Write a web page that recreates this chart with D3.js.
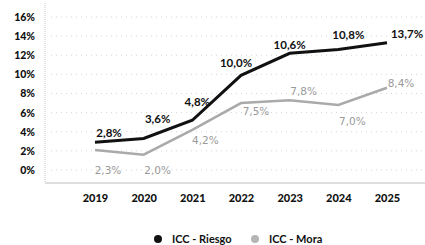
<!DOCTYPE html>
<html>
<head>
<meta charset="utf-8">
<script src="https://cdn.jsdelivr.net/npm/d3@7"></script>
<style>
  body { margin: 0; background: #fff; }
  svg { display: block; font-family: Lato, "Open Sans", sans-serif; }
</style>
</head>
<body>
<svg id="chart" width="425" height="245"></svg>
<script>
const years = ['2019', '2020', '2021', '2022', '2023', '2024', '2025']
const riesgo = [2.9, 3.3, 5.2, 9.9, 12.2, 12.6, 13.3]
const mora = [2.1, 1.6, 4.2, 7.0, 7.3, 6.8, 8.6]
const riesgoLabels = ['2,8%', '3,6%', '4,8%', '10,0%', '10,6%', '10,8%', '13,7%']
const moraLabels = ['2,3%', '2,0%', '4,2%', '7,5%', '7,8%', '7,0%', '8,4%']
const yTicks = [0, 2, 4, 6, 8, 10, 12, 14, 16]
const seriesNames = ['ICC - Riesgo', 'ICC - Mora']

// label nudges (layout only)
const riesgoNudge = [[14, -5], [14, -15], [5, -14], [-5, -8], [0, -4], [10, -11], [20, -5]]
const moraNudge = [[13, 24], [14, 19], [13, 14], [15, 12], [14, -5], [14, 20], [14, -1]]

const svg = d3.select('#chart')
const left = 45, right = 425, bottom = 183

const x = d3.scalePoint().domain(years).range([95, 387])
const y = d3.scaleLinear().domain([0, 16]).range([170, 17])

// gridlines
svg.append('g')
  .selectAll('line')
  .data(yTicks)
  .join('line')
    .attr('x1', left + 6)
    .attr('x2', right)
    .attr('y1', d => y(d))
    .attr('y2', d => y(d))
    .attr('stroke', '#d6d6d6')
    .attr('stroke-width', 1)
    .attr('stroke-dasharray', '1,4')

// frame lines
svg.append('line')
  .attr('x1', left).attr('x2', left).attr('y1', 3).attr('y2', bottom)
  .attr('stroke', '#c8c8c8').attr('stroke-dasharray', '1,1')
svg.append('line')
  .attr('x1', left).attr('x2', right).attr('y1', bottom).attr('y2', bottom)
  .attr('stroke', '#bdbdbd').attr('stroke-width', 1.2)

// y axis labels
const yAxis = d3.axisLeft(y).tickValues(yTicks).tickFormat(d => d + '%').tickSize(0).tickPadding(0)
svg.append('g')
  .attr('transform', 'translate(35,0)')
  .call(yAxis)
  .call(g => g.select('.domain').remove())
  .selectAll('text')
    .attr('font-family', 'Lato, sans-serif')
    .attr('font-size', 10.5)
    .attr('font-weight', 900)
    .attr('fill', '#111')

// x axis labels
const xAxis = d3.axisBottom(x).tickSize(0).tickPadding(0)
svg.append('g')
  .attr('transform', 'translate(0,194)')
  .call(xAxis)
  .call(g => g.select('.domain').remove())
  .selectAll('text')
    .attr('font-family', 'Lato, sans-serif')
    .attr('font-size', 11)
    .attr('font-weight', 900)
    .attr('fill', '#111')

const line = d3.line()
  .x((d, i) => x(years[i]))
  .y(d => y(d))

svg.append('path')
  .datum(mora)
  .attr('d', line)
  .attr('fill', 'none')
  .attr('stroke', '#aaaaaa')
  .attr('stroke-width', 2.5)

svg.append('path')
  .datum(riesgo)
  .attr('d', line)
  .attr('fill', 'none')
  .attr('stroke', '#111')
  .attr('stroke-width', 3)

// data labels
svg.append('g')
  .selectAll('text')
  .data(riesgo)
  .join('text')
    .attr('x', (d, i) => x(years[i]) + riesgoNudge[i][0])
    .attr('y', (d, i) => y(d) + riesgoNudge[i][1])
    .attr('text-anchor', 'middle')
    .attr('font-size', 11.5)
    .attr('font-weight', 'bold')
    .attr('fill', '#111')
    .text((d, i) => riesgoLabels[i])

svg.append('g')
  .selectAll('text')
  .data(mora)
  .join('text')
    .attr('x', (d, i) => x(years[i]) + moraNudge[i][0])
    .attr('y', (d, i) => y(d) + moraNudge[i][1])
    .attr('text-anchor', 'middle')
    .attr('font-family', '"DejaVu Sans", sans-serif')
    .attr('font-size', 10.5)
    .attr('fill', '#9a9a9a')
    .text((d, i) => moraLabels[i])

// legend
const legendColors = ['#111', '#b5b5b5']
const legendX = [158, 255]
const legend = svg.append('g')
  .selectAll('g')
  .data(seriesNames)
  .join('g')
    .attr('transform', (d, i) => `translate(${legendX[i]},239)`)
legend.append('circle')
  .attr('r', 4)
  .attr('fill', (d, i) => legendColors[i])
legend.append('text')
  .attr('x', 14)
  .attr('y', 4)
  .attr('font-size', 11)
  .attr('font-weight', 'bold')
  .attr('fill', '#111')
  .text(d => d)
</script>
</body>
</html>
